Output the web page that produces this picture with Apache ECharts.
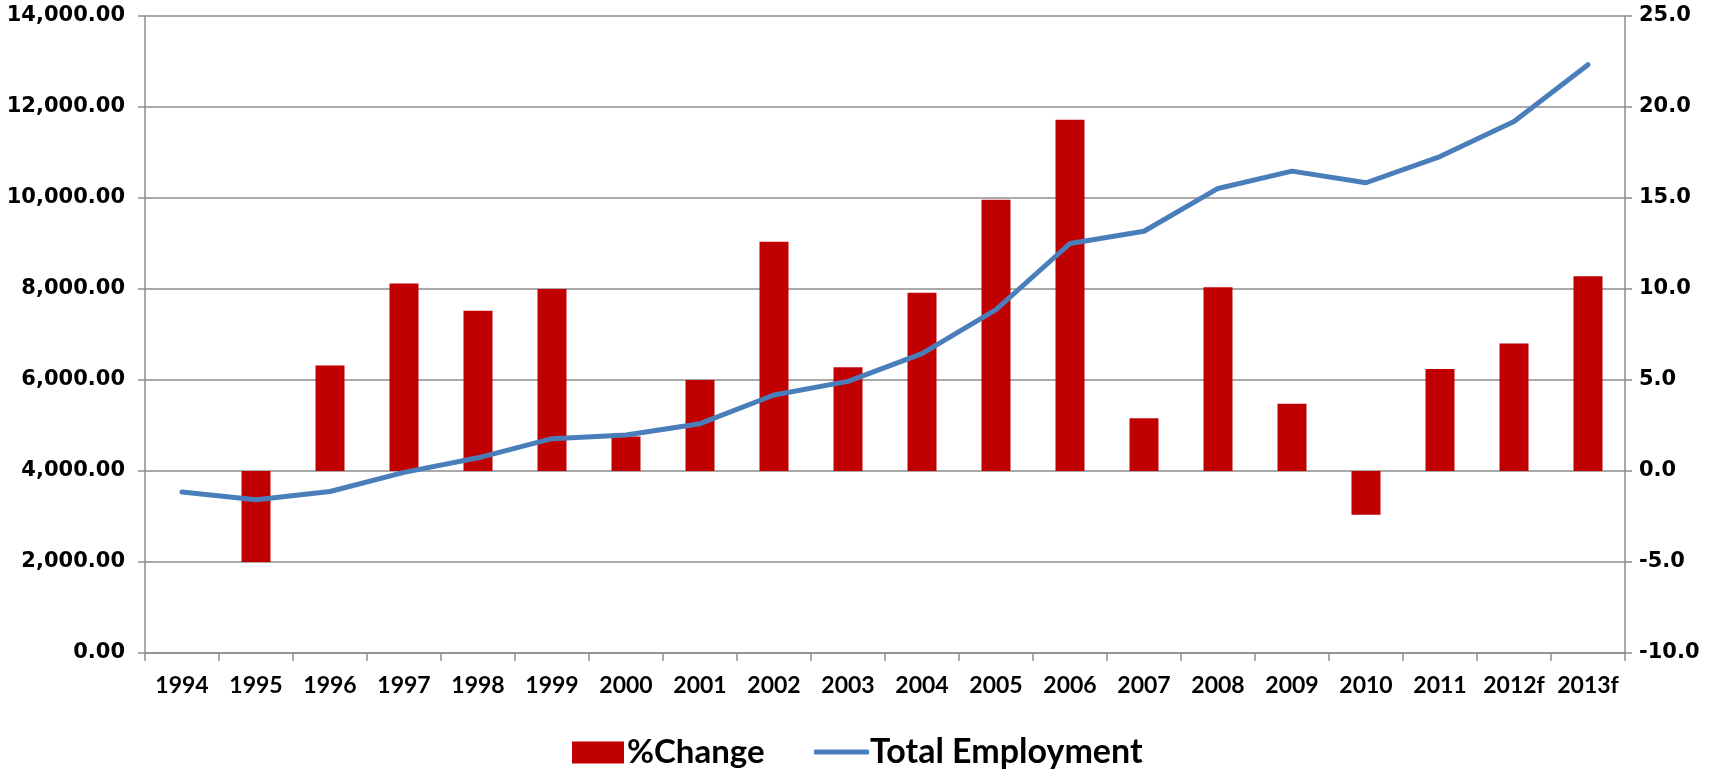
<!DOCTYPE html>
<html>
<head>
<meta charset="utf-8">
<script src="https://cdn.jsdelivr.net/npm/echarts@6/dist/echarts.min.js"></script>
<style>
  html, body { margin: 0; padding: 0; background: #fff; }
  #main { width: 1725px; height: 771px; }
</style>
</head>
<body>
<div id="main"></div>
<script>
// categories and values
var years = ['1994', '1995', '1996', '1997', '1998', '1999', '2000', '2001', '2002', '2003',
  '2004', '2005', '2006', '2007', '2008', '2009', '2010', '2011', '2012f', '2013f']
var pctChange = [null, -5.0, 5.8, 10.3, 8.8, 10.0, 1.9, 5.0, 12.6, 5.7,
  9.8, 14.9, 19.3, 2.9, 10.1, 3.7, -2.4, 5.6, 7.0, 10.7]
var totalEmployment = [3540, 3370, 3550, 3970, 4290, 4710, 4790, 5040, 5670, 5970,
  6580, 7545, 9000, 9270, 10210, 10590, 10335, 10910, 11680, 12930]

var gridColor = '#8e8e8e'
var chart = echarts.init(document.getElementById('main'))

chart.setOption({
  backgroundColor: '#fff',
  animation: false,
  grid: { left: 145, right: 100, top: 16, bottom: 118 },
  legend: [
    {
      // bar legend
      data: ['%Change'],
      left: 567,
      top: 731,
      itemWidth: 52,
      itemHeight: 22,
      itemGap: 8,
      icon: 'rect',
      textStyle: { fontFamily: 'Lato', fontWeight: 'bold', fontSize: 33, color: '#000', padding: [0, 0, 0, -2] }
    },
    {
      // line legend
      data: ['Total Employment'],
      left: 809,
      top: 730,
      itemWidth: 55,
      itemHeight: 5,
      icon: 'roundRect',
      textStyle: { fontFamily: 'Lato', fontWeight: 'bold', fontSize: 34, color: '#000', padding: [0, 0, 0, -4] }
    }
  ],
  xAxis: {
    type: 'category',
    data: years,
    boundaryGap: true,
    axisLine: { lineStyle: { color: gridColor, width: 1.5 } },
    axisTick: { show: true, interval: 0, length: 8, inside: false, lineStyle: { color: gridColor, width: 1.5 } },
    axisLabel: { interval: 0, margin: 21, color: '#000', fontFamily: 'Lato', fontWeight: 'bold', fontSize: 23 }
  },
  yAxis: [
    {
      type: 'value',
      min: 0,
      max: 14000,
      interval: 2000,
      axisLine: { show: true, lineStyle: { color: gridColor, width: 1.5 } },
      axisTick: { show: true, length: 7, lineStyle: { color: gridColor, width: 1.5 } },
      splitLine: { show: true, lineStyle: { color: gridColor, width: 1.5 } },
      axisLabel: {
        margin: 20,
        color: '#000',
        fontFamily: 'DejaVu Sans',
        fontWeight: 'bold',
        fontSize: 21,
        formatter: function (v) {
          return v.toLocaleString('en-US', { minimumFractionDigits: 2, maximumFractionDigits: 2 })
        }
      }
    },
    {
      type: 'value',
      min: -10,
      max: 25,
      interval: 5,
      position: 'right',
      axisLine: { show: true, lineStyle: { color: gridColor, width: 1.5 } },
      axisTick: { show: true, length: 7, lineStyle: { color: gridColor, width: 1.5 } },
      splitLine: { show: false },
      axisLabel: {
        margin: 14,
        color: '#000',
        fontFamily: 'DejaVu Sans',
        fontWeight: 'bold',
        fontSize: 21,
        formatter: function (v) { return v.toFixed(1) }
      }
    }
  ],
  series: [
    {
      name: '%Change',
      type: 'bar',
      yAxisIndex: 1,
      data: pctChange,
      barWidth: 29,
      itemStyle: { color: '#c00000' },
      z: 2
    },
    {
      name: 'Total Employment',
      type: 'line',
      yAxisIndex: 0,
      data: totalEmployment,
      symbol: 'none',
      lineStyle: { color: '#4a7ebb', width: 5, cap: 'round', join: 'round' },
      itemStyle: { color: '#4a7ebb' },
      z: 3
    }
  ]
})
</script>
</body>
</html>
